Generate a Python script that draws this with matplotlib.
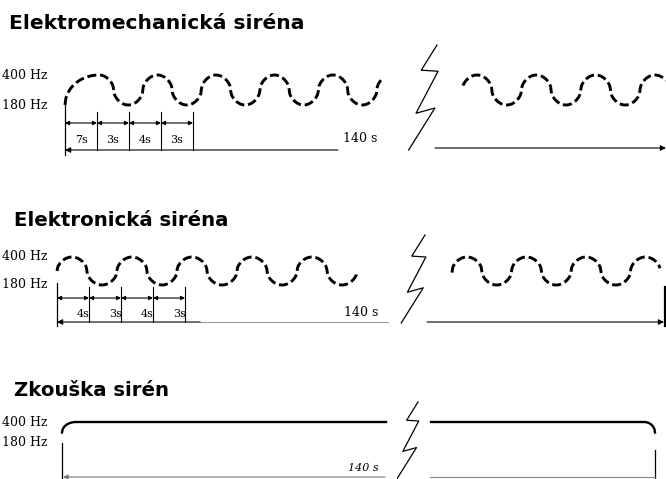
import matplotlib.pyplot as plt
import numpy as np

# values
freq_hi, freq_lo = 400, 180
total_time = 140
mech_segments = [7, 3, 4, 3]
elec_segments = [4, 3, 4, 3]
titles = ['Elektromechanická siréna', 'Elektronická siréna', 'Zkouška sirén']

# layout of the three panels (pixel rows of the 400 Hz / 180 Hz levels)
rows = [dict(title_x=9, title_y=23, title_fs=14.6, y_hi=75, y_lo=105, left=65, dim_y=123, lab_y=140, base_y=150),
        dict(title_x=14, title_y=220, title_fs=14.2, y_hi=257, y_lo=285, left=57, dim_y=298, lab_y=314, base_y=322),
        dict(title_x=14, title_y=390, title_fs=14.2, y_hi=422, y_lo=443, left=62, base_y=477)]
seg_w = 32
serif = ['DejaVu Serif']

fig = plt.figure(figsize=(6.66, 4.79), dpi=100)
ax = fig.add_axes([0, 0, 1, 1])
ax.set_xlim(0, 666)
ax.set_ylim(479, 0)
ax.axis('off')


def hz_y(f, r):
    return r['y_hi'] + (freq_hi - f) / (freq_hi - freq_lo) * (r['y_lo'] - r['y_hi'])


def wave_hz(x, x_top, period):
    c = np.cos(2 * np.pi * (x - x_top) / period)
    s = np.sign(c) * np.abs(c) ** 0.5
    mid = (freq_hi + freq_lo) / 2
    return mid + (freq_hi - mid) * s


def dashed(x, f, r):
    ax.plot(x, hz_y(f, r), color='black', lw=2.1, dashes=(3.1, 1.3), solid_capstyle='butt')


def zigzag(x0, y0, h):
    shape = np.array([(0, 0), (-0.15, 0.24), (0.01, 0.25), (-0.2, 0.65), (-0.02, 0.6), (-0.27, 1.0)])
    ax.plot(x0 + shape[:, 0] * h, y0 + shape[:, 1] * h, color='black', lw=0.9)


def labels(r):
    ax.text(2, r['y_hi'], f'{freq_hi} Hz', family=serif, fontsize=9, va='center', ha='left')
    ax.text(2, r['y_lo'], f'{freq_lo} Hz', family=serif, fontsize=9, va='center', ha='left')


def dims(r, segs, right_aligned):
    xs = r['left'] + seg_w * np.arange(len(segs) + 1)
    for x in xs[1:]:
        ax.plot([x, x], [r['dim_y'] - 11, r['base_y']], color='black', lw=0.8)
    for i, s in enumerate(segs):
        ax.annotate('', xy=(xs[i], r['dim_y']), xytext=(xs[i + 1], r['dim_y']),
                    arrowprops=dict(arrowstyle='<|-|>', color='black', lw=0.8,
                                    mutation_scale=6, shrinkA=0, shrinkB=0))
        if right_aligned:
            ax.text(xs[i + 1] + 1, r['lab_y'], f'{s}s', family=serif, fontsize=8,
                    ha='right', va='center')
        else:
            ax.text((xs[i] + xs[i + 1]) / 2, r['lab_y'], f'{s}s', family=serif, fontsize=8,
                    ha='center', va='center')


for r, t in zip(rows, titles):
    ax.text(r['title_x'], r['title_y'], t, family=['DejaVu Sans'], fontweight='bold',
            fontsize=r['title_fs'], ha='left', va='center')
    labels(r)

# --- panel 1: electromechanical siren
r = rows[0]
x = np.linspace(r['left'], 99, 40)
f = freq_lo + (freq_hi - freq_lo) * np.sqrt(np.clip(1 - ((99 - x) / (99 - r['left'])) ** 2, 0, 1))
x2 = np.linspace(99, 383, 400)
dashed(np.r_[x, x2], np.r_[f, wave_hz(x2, 99, 58.5)], r)
x3 = np.linspace(463, 666, 300)
dashed(x3, wave_hz(x3, 477, 59.3), r)
ax.plot([r['left'], r['left']], [r['y_lo'], r['base_y'] + 5], color='black', lw=0.9)
dims(r, mech_segments, False)
ax.annotate('', xy=(r['left'], r['base_y']), xytext=(338, r['base_y']),
            arrowprops=dict(arrowstyle='-|>', color='black', lw=0.8, mutation_scale=8,
                            shrinkA=0, shrinkB=0))
ax.annotate('', xy=(666, r['base_y'] - 2), xytext=(435, r['base_y'] - 2),
            arrowprops=dict(arrowstyle='-|>', color='black', lw=0.8, mutation_scale=8,
                            shrinkA=0, shrinkB=0))
ax.text(360, r['base_y'] - 12, f'{total_time} s', family=serif, fontsize=9, ha='center', va='center')
zigzag(437, 45, 105)

# --- panel 2: electronic siren
r = rows[1]
x = np.linspace(r['left'], 357, 400)
dashed(x, wave_hz(x, 72, 60), r)
x3 = np.linspace(452, 660, 300)
dashed(x3, wave_hz(x3, 467, 59.5), r)
ax.plot([r['left'], r['left']], [r['y_lo'] - 2, r['base_y'] + 4], color='black', lw=0.9)
dims(r, elec_segments, True)
ax.annotate('', xy=(r['left'], r['base_y']), xytext=(200, r['base_y']),
            arrowprops=dict(arrowstyle='-|>', color='black', lw=0.8, mutation_scale=8,
                            shrinkA=0, shrinkB=0))
ax.plot([200, 388], [r['base_y'], r['base_y']], color='#9a9a9a', lw=0.8)
ax.annotate('', xy=(664, r['base_y']), xytext=(427, r['base_y']),
            arrowprops=dict(arrowstyle='-|>', color='black', lw=0.8, mutation_scale=8,
                            shrinkA=0, shrinkB=0))
ax.plot([665, 665], [r['y_lo'] + 2, r['base_y'] + 4], color='black', lw=1.6)
ax.text(361, r['base_y'] - 10, f'{total_time} s', family=serif, fontsize=9, ha='center', va='center')
zigzag(425, 235, 88)

# --- panel 3: siren test
r = rows[2]
x = np.linspace(r['left'], 76, 20)
f_left = (freq_hi + freq_lo) / 2 + (freq_hi - freq_lo) / 2 * np.sqrt(1 - ((76 - x) / (76 - r['left'])) ** 2)
ax.plot(np.r_[x, 386], np.r_[hz_y(f_left, r), hz_y(freq_hi, r)], color='black', lw=1.7)
x = np.linspace(644, 655, 20)
f_right = (freq_hi + freq_lo) / 2 + (freq_hi - freq_lo) / 2 * np.sqrt(1 - ((x - 644) / (655 - 644)) ** 2)
ax.plot(np.r_[431, x], np.r_[hz_y(freq_hi, r), hz_y(f_right, r)], color='black', lw=1.7)
ax.plot([r['left'], r['left']], [r['y_lo'], r['base_y'] + 2], color='black', lw=0.9)
ax.plot([655, 655], [450, r['base_y'] + 2], color='black', lw=0.9)
ax.annotate('', xy=(r['left'] + 1, r['base_y']), xytext=(385, r['base_y']),
            arrowprops=dict(arrowstyle='-|>', color='#777777', lw=0.8, mutation_scale=7,
                            shrinkA=0, shrinkB=0))
ax.plot([430, 655], [r['base_y'], r['base_y']], color='#888888', lw=0.8)
ax.text(363, r['base_y'] - 9, f'{total_time} s', family=serif, fontsize=8,
        style='italic', ha='center', va='center')
zigzag(418, 402, 76)

fig.savefig('out.png', dpi=100)
